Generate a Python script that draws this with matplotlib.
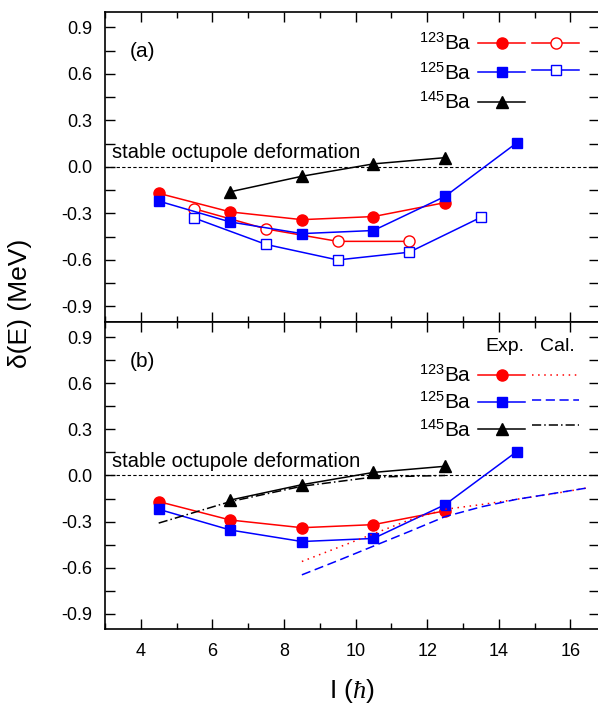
import matplotlib
matplotlib.use('Agg')
import matplotlib.pyplot as plt
from matplotlib.lines import Line2D
from matplotlib.ticker import MultipleLocator

plt.rcParams['font.family'] = ['Liberation Sans', 'DejaVu Sans']
plt.rcParams['mathtext.fontset'] = 'custom'
plt.rcParams['mathtext.rm'] = 'Liberation Sans'
plt.rcParams['mathtext.it'] = 'Liberation Serif:italic'

# experimental data, favoured / unfavoured signature
spin_123_fav = [4.5, 6.5, 8.5, 10.5, 12.5]
de_123_fav = [-0.17, -0.29, -0.34, -0.32, -0.23]
spin_123_unf = [5.5, 7.5, 9.5, 11.5]
de_123_unf = [-0.27, -0.40, -0.48, -0.48]
spin_125_fav = [4.5, 6.5, 8.5, 10.5, 12.5, 14.5]
de_125_fav = [-0.22, -0.355, -0.43, -0.41, -0.19, 0.155]
spin_125_unf = [5.5, 7.5, 9.5, 11.5, 13.5]
de_125_unf = [-0.33, -0.50, -0.60, -0.55, -0.325]
spin_145 = [6.5, 8.5, 10.5, 12.5]
de_145 = [-0.16, -0.06, 0.02, 0.06]

# calculations
spin_123_cal = [8.5, 9.5, 10.5, 11.5, 12.5, 13.5, 14.5, 15.5, 16.5]
de_123_cal = [-0.56, -0.47, -0.38, -0.29, -0.22, -0.19, -0.155, -0.12, -0.08]
spin_125_cal = [8.5, 9.5, 10.5, 11.5, 12.5, 13.5, 14.5, 15.5, 16.5]
de_125_cal = [-0.647, -0.555, -0.46, -0.365, -0.268, -0.205, -0.155, -0.118, -0.08]
spin_145_cal = [4.5, 6.5, 8.5, 10.5, 12.5]
de_145_cal = [-0.31, -0.17, -0.07, -0.01, 0.0]

yticks = [-0.9, -0.6, -0.3, 0.0, 0.3, 0.6, 0.9]
ytick_labels = ['-0.9', '-0.6', '-0.3', '0.0', '0.3', '0.6', '0.9']
iso_labels = ['$^{123}$Ba', '$^{125}$Ba', '$^{145}$Ba', '', '', '']

fig = plt.figure(figsize=(5.98, 7.06), dpi=100)
ax1 = fig.add_axes([0.1756, 0.544, 0.826, 0.439])
ax2 = fig.add_axes([0.1756, 0.109, 0.826, 0.435], sharex=ax1)

ms = 8
lw = 1.1
for ax in (ax1, ax2):
    ax.axhline(0, color='k', lw=0.8, ls=(0, (3, 2)))
    ax.set_xlim(3, 16.8)
    ax.set_ylim(-1.0, 1.0)
    ax.xaxis.set_major_locator(MultipleLocator(2))
    ax.xaxis.set_minor_locator(MultipleLocator(1))
    ax.yaxis.set_minor_locator(MultipleLocator(0.15))
    ax.set_yticks(yticks)
    ax.set_yticklabels(ytick_labels)
    ax.tick_params(which='both', direction='in', top=True, right=True, labelsize=13, width=1.0)
    ax.tick_params(which='major', length=7)
    ax.tick_params(which='minor', axis='x', length=4.5)
    ax.tick_params(which='minor', axis='y', length=7)
    ax.tick_params(axis='y', pad=9)
    ax.tick_params(axis='x', pad=10)
    for s in ax.spines.values():
        s.set_linewidth(1.2)
    ax.text(3.2, 0.03, 'stable octupole deformation', fontsize=14.5, va='bottom', ha='left')

# panel (a)
ax1.plot(spin_123_fav, de_123_fav, '-o', color='red', lw=lw, ms=ms)
ax1.plot(spin_123_unf, de_123_unf, '-o', color='red', mfc='white', lw=lw, ms=ms)
ax1.plot(spin_125_fav, de_125_fav, '-s', color='blue', lw=lw, ms=7)
ax1.plot(spin_125_unf, de_125_unf, '-s', color='blue', mfc='white', lw=lw, ms=7)
ax1.plot(spin_145, de_145, '-^', color='k', lw=lw, ms=ms)
ax1.text(0.05, 0.872, '(a)', transform=ax1.transAxes, fontsize=15, va='center')
plt.setp(ax1.get_xticklabels(), visible=False)

h = [Line2D([], [], color='red', marker='o', ms=ms, lw=lw),
     Line2D([], [], color='blue', marker='s', ms=7, lw=lw),
     Line2D([], [], color='k', marker='^', ms=ms, lw=lw),
     Line2D([], [], color='red', marker='o', mfc='white', ms=ms, lw=lw),
     Line2D([], [], color='blue', marker='s', mfc='white', ms=7, lw=lw),
     Line2D([], [], color='none')]
ax1.legend(h, iso_labels, ncol=2, markerfirst=False, frameon=False, loc='upper right',
           bbox_to_anchor=(0.998, 0.993), fontsize=15, handlelength=2.25,
           handletextpad=0.3, columnspacing=0.05, labelspacing=0.4)

# panel (b)
ax2.plot(spin_123_fav, de_123_fav, '-o', color='red', lw=lw, ms=ms)
ax2.plot(spin_125_fav, de_125_fav, '-s', color='blue', lw=lw, ms=7)
ax2.plot(spin_145, de_145, '-^', color='k', lw=lw, ms=ms)
ax2.plot(spin_123_cal, de_123_cal, color='red', lw=lw, ls=(0, (1, 3)))
ax2.plot(spin_125_cal, de_125_cal, color='blue', lw=lw, ls=(0, (6, 3)))
ax2.plot(spin_145_cal, de_145_cal, color='k', lw=lw, ls=(0, (6, 2, 1, 2)))
ax2.text(0.05, 0.872, '(b)', transform=ax2.transAxes, fontsize=15, va='center')
ax2.text(0.81, 0.92, 'Exp.', transform=ax2.transAxes, fontsize=14, ha='center', va='center')
ax2.text(0.915, 0.92, 'Cal.', transform=ax2.transAxes, fontsize=14, ha='center', va='center')

hb = [Line2D([], [], color='red', marker='o', ms=ms, lw=lw),
      Line2D([], [], color='blue', marker='s', ms=7, lw=lw),
      Line2D([], [], color='k', marker='^', ms=ms, lw=lw),
      Line2D([], [], color='red', lw=lw, ls=(0, (1, 3))),
      Line2D([], [], color='blue', lw=lw, ls=(0, (6, 3))),
      Line2D([], [], color='k', lw=lw, ls=(0, (6, 2, 1, 2)))]
ax2.legend(hb, iso_labels, ncol=2, markerfirst=False, frameon=False, loc='upper right',
           bbox_to_anchor=(0.998, 0.922), fontsize=15, handlelength=2.25,
           handletextpad=0.3, columnspacing=0.05, labelspacing=0.3)

ax2.set_xlabel(r'I ($\hbar$)', fontsize=19, labelpad=12)
fig.text(0.033, 0.57, 'δ(E) (MeV)', rotation=90, fontsize=19, ha='center', va='center')

fig.savefig('out.png', dpi=100)
